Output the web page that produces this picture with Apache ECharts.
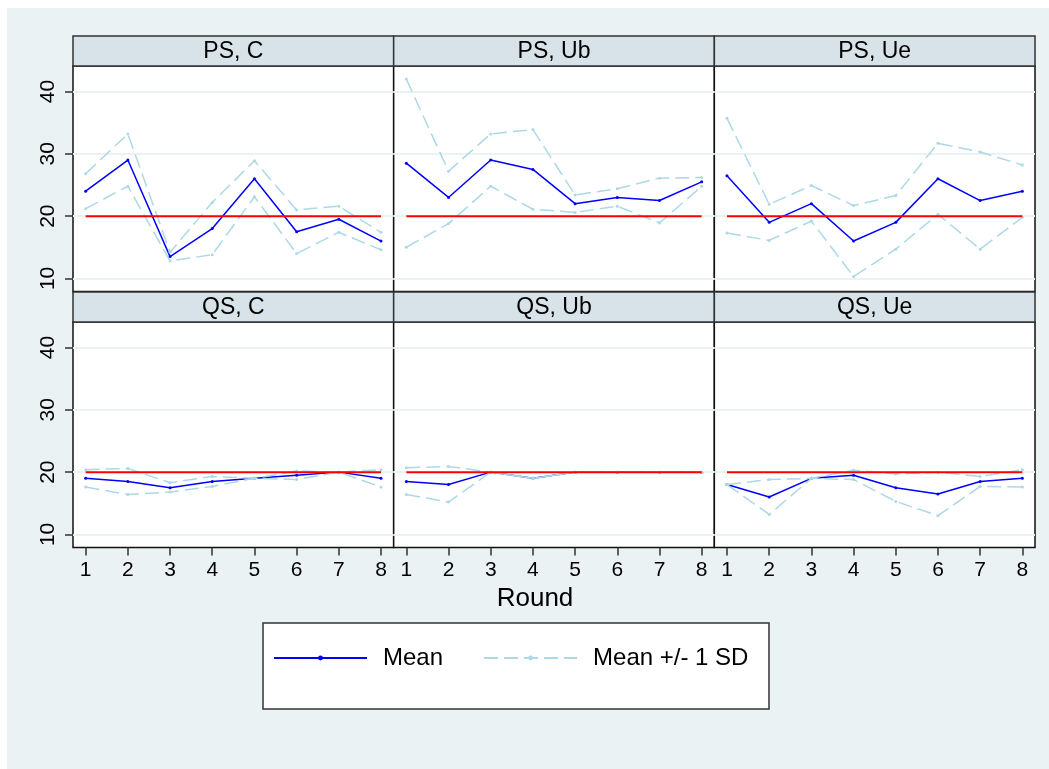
<!DOCTYPE html>
<html>
<head>
<meta charset="utf-8">
<title>Mean by round</title>
<script src="https://cdn.jsdelivr.net/npm/echarts@6/dist/echarts.min.js"></script>
<style>
  html, body { margin: 0; padding: 0; background: #ffffff; }
  #chart { width: 1049px; height: 769px; }
</style>
</head>
<body>
<div id="chart"></div>
<script>
// rounds on the x axis and the tick values on y
const rounds = [1, 2, 3, 4, 5, 6, 7, 8];
const yTicks = [10, 20, 30, 40];
const targetValue = 20;

const panelTitles = ['PS, C', 'PS, Ub', 'PS, Ue', 'QS, C', 'QS, Ub', 'QS, Ue'];

// PS, C
const meanPSC  = [24.0, 29.0, 13.5, 18.0, 26.0, 17.5, 19.5, 16.0];
const upperPSC = [26.8, 33.2, 14.2, 22.2, 28.9, 21.0, 21.6, 17.4];
const lowerPSC = [21.2, 24.8, 12.8, 13.8, 23.1, 14.0, 17.4, 14.6];
// PS, Ub
const meanPSUb  = [28.5, 23.0, 29.0, 27.5, 22.0, 23.0, 22.5, 25.5];
const upperPSUb = [42.0, 27.2, 33.2, 33.9, 23.4, 24.4, 26.1, 26.2];
const lowerPSUb = [15.0, 18.8, 24.8, 21.1, 20.6, 21.6, 18.9, 24.8];
// PS, Ue
const meanPSUe  = [26.5, 19.0, 22.0, 16.0, 19.0, 26.0, 22.5, 24.0];
const upperPSUe = [35.7, 21.9, 24.9, 21.7, 23.3, 31.7, 30.3, 28.2];
const lowerPSUe = [17.3, 16.1, 19.2, 10.3, 14.7, 20.3, 14.7, 19.8];
// QS, C
const meanQSC  = [19.0, 18.5, 17.5, 18.5, 19.0, 19.5, 20.0, 19.0];
const upperQSC = [20.4, 20.6, 18.3, 19.3, 19.0, 20.2, 20.0, 20.4];
const lowerQSC = [17.6, 16.4, 16.8, 17.7, 19.0, 18.8, 20.0, 17.6];
// QS, Ub
const meanQSUb  = [18.5, 18.0, 20.0, 19.0, 20.0, 20.0, 20.0, 20.0];
const upperQSUb = [20.7, 20.9, 20.0, 19.0, 20.0, 20.0, 20.0, 20.0];
const lowerQSUb = [16.4, 15.2, 20.0, 19.0, 20.0, 20.0, 20.0, 20.0];
// QS, Ue
const meanQSUe  = [18.0, 16.0, 19.0, 19.5, 17.5, 16.5, 18.5, 19.0];
const upperQSUe = [18.0, 18.8, 19.0, 20.3, 19.7, 20.0, 19.3, 20.4];
const lowerQSUe = [18.0, 13.2, 19.0, 18.8, 15.3, 13.0, 17.7, 17.6];

const panelMeans  = [meanPSC, meanPSUb, meanPSUe, meanQSC, meanQSUb, meanQSUe];
const panelUppers = [upperPSC, upperPSUb, upperPSUe, upperQSC, upperQSUb, upperQSUe];
const panelLowers = [lowerPSC, lowerPSUb, lowerPSUe, lowerQSC, lowerQSUb, lowerQSUe];

const FONT = '"Liberation Sans", Arial, Helvetica, sans-serif';
const BG = '#eaf2f3';
const MEAN_COLOR = '#0000ff';
const SD_COLOR = '#add8e6';

// panel layout (pixels)
const plotLeft = 73, plotWidth = 320.67, plotHeight = 225.5;
const rowTops = [66, 322];
const headerHeight = 30;

const pairs = (ys) => rounds.map((r, i) => [r, ys[i]]);

const grids = [], xAxes = [], yAxes = [], series = [], graphics = [];

// outer background with the thin white margin top and left
graphics.push({
    type: 'rect', z: -10,
    shape: { x: 7, y: 8, width: 1042, height: 761 },
    style: { fill: BG }
});

panelTitles.forEach((title, i) => {
    const col = i % 3, row = Math.floor(i / 3);
    const left = plotLeft + col * plotWidth;
    const top = rowTops[row];
    const isBottom = row === 1, isLeft = col === 0;

    grids.push({
        left: left, top: top, width: plotWidth, height: plotHeight,
        show: true, backgroundColor: '#ffffff',
        borderColor: '#111', borderWidth: 1.5
    });

    xAxes.push({
        type: 'value', gridIndex: i, min: 0.7, max: 8.3,
        axisLine: { show: false },
        splitLine: { show: false },
        axisTick: { show: isBottom, length: 8, lineStyle: { color: '#333', width: 1.5 }, customValues: rounds },
        axisLabel: { show: isBottom, customValues: rounds, margin: 12, fontSize: 21, color: '#000', fontFamily: FONT }
    });

    yAxes.push({
        type: 'value', gridIndex: i, min: 7.9, max: 44.1,
        axisLine: { show: false },
        splitLine: { show: true, lineStyle: { color: BG, width: 2 } },
        axisTick: { show: isLeft, length: 8, lineStyle: { color: '#333', width: 1.5 }, customValues: yTicks },
        axisLabel: { show: isLeft, customValues: yTicks, rotate: 90, margin: 14, fontSize: 21, color: '#000', fontFamily: FONT }
    });

    // mean first, then the +/- 1 SD lines, then the red line on top
    const common = { xAxisIndex: i, yAxisIndex: i, type: 'line', symbol: 'circle', symbolSize: 3 };
    series.push(Object.assign({}, common, {
        name: 'Mean', data: pairs(panelMeans[i]), z: 2,
        itemStyle: { color: MEAN_COLOR },
        lineStyle: { color: MEAN_COLOR, width: 1.5 }
    }));
    series.push(Object.assign({}, common, {
        name: 'Mean +/- 1 SD', data: pairs(panelUppers[i]), z: 3,
        itemStyle: { color: SD_COLOR },
        lineStyle: { color: SD_COLOR, width: 1.5, type: [14, 6] }
    }));
    series.push(Object.assign({}, common, {
        name: 'Mean +/- 1 SD', data: pairs(panelLowers[i]), z: 3,
        itemStyle: { color: SD_COLOR },
        lineStyle: { color: SD_COLOR, width: 1.5, type: [14, 6] }
    }));
    series.push({
        name: 'Target', type: 'line', xAxisIndex: i, yAxisIndex: i, z: 4,
        showSymbol: false, silent: true,
        data: [[rounds[0], targetValue], [rounds[rounds.length - 1], targetValue]],
        lineStyle: { color: '#ff0000', width: 2 }
    });

    // panel header strip
    graphics.push({
        type: 'rect', z: 5,
        shape: { x: left, y: top - headerHeight, width: plotWidth, height: headerHeight },
        style: { fill: '#d7e3e8', stroke: '#333', lineWidth: 1.5 }
    });
    graphics.push({
        type: 'text', z: 6,
        x: left + plotWidth / 2, y: top - headerHeight / 2 + 1,
        style: { text: title, fontSize: 23, fontFamily: FONT, fill: '#000', align: 'center', verticalAlign: 'middle' }
    });
});

// x axis title
graphics.push({
    type: 'text', z: 6, x: 535, y: 599,
    style: { text: 'Round', fontSize: 26, fontFamily: FONT, fill: '#000', align: 'center', verticalAlign: 'middle' }
});

// legend box
graphics.push({
    type: 'rect', z: 1,
    shape: { x: 263, y: 623, width: 506, height: 86 },
    style: { fill: '#ffffff', stroke: '#333', lineWidth: 1.5 }
});

const chart = echarts.init(document.getElementById('chart'));
chart.setOption({
    animation: false,
    backgroundColor: '#ffffff',
    textStyle: { fontFamily: FONT },
    grid: grids,
    xAxis: xAxes,
    yAxis: yAxes,
    legend: {
        data: ['Mean', 'Mean +/- 1 SD'],
        left: 273, top: 646, padding: 0,
        itemWidth: 93, itemHeight: 6, itemGap: 40,
        selectedMode: false,
        textStyle: { fontSize: 24, color: '#000', fontFamily: FONT, padding: [0, 0, 0, 11] }
    },
    graphic: graphics,
    series: series
});
</script>
</body>
</html>
